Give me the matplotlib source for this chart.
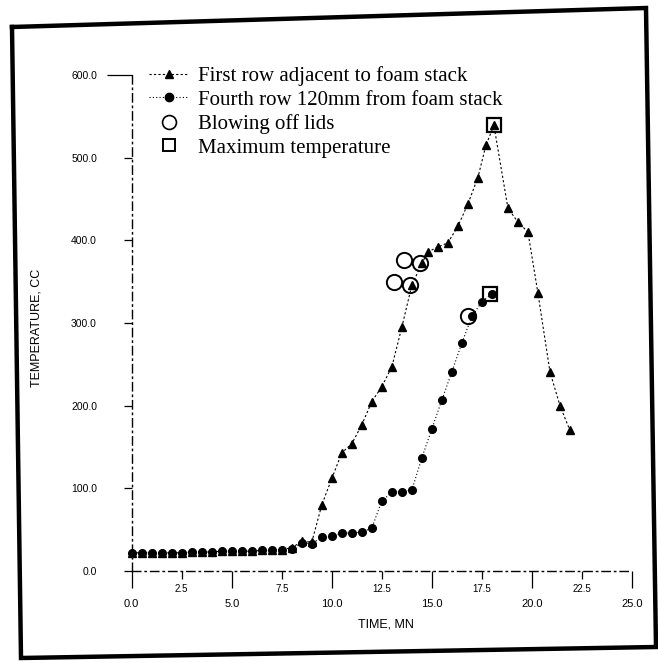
import matplotlib
matplotlib.use("Agg")
import matplotlib.pyplot as plt
from matplotlib.lines import Line2D

# ---- data ----
first_t = [0.0, 0.5, 1.0, 1.5, 2.0, 2.5, 3.0, 3.5, 4.0, 4.5, 5.0, 5.5, 6.0, 6.5, 7.0,
           7.5, 8.0, 8.5, 9.0, 9.5, 10.0, 10.5, 11.0, 11.5, 12.0, 12.5, 13.0, 13.5,
           14.0, 14.5, 14.8, 15.3, 15.8, 16.3, 16.8, 17.3, 17.7, 18.1, 18.8, 19.3,
           19.8, 20.3, 20.9, 21.4, 21.9]
first_T = [22, 22, 22, 22, 22, 22, 23, 23, 23, 24, 24, 24, 24, 25, 25,
           26, 28, 36, 35, 80, 112, 143, 154, 177, 205, 223, 247, 295,
           346, 372, 386, 392, 397, 417, 444, 476, 515, 539, 439, 422,
           410, 336, 241, 200, 170]

fourth_t = [0.0, 0.5, 1.0, 1.5, 2.0, 2.5, 3.0, 3.5, 4.0, 4.5, 5.0, 5.5, 6.0, 6.5, 7.0,
            7.5, 8.0, 8.5, 9.0, 9.5, 10.0, 10.5, 11.0, 11.5, 12.0, 12.5, 13.0, 13.5,
            14.0, 14.5, 15.0, 15.5, 16.0, 16.5, 17.0, 17.5, 18.0]
fourth_T = [22, 22, 22, 22, 22, 22, 23, 23, 23, 24, 24, 24, 24, 25, 25,
            26, 27, 34, 33, 41, 42, 46, 46, 47, 52, 85, 95, 96,
            98, 137, 172, 207, 241, 276, 308, 326, 335]

lids_t = [13.1, 13.6, 13.9, 14.4, 16.8]
lids_T = [349, 376, 346, 372, 308]

max_t = [18.1, 17.9]
max_T = [539, 335]

series_labels = ["First row adjacent to foam stack",
                 "Fourth row 120mm from foam stack",
                 "Blowing off lids",
                 "Maximum temperature"]

x_major = [0.0, 5.0, 10.0, 15.0, 20.0, 25.0]
x_major_labels = ["0.0", "5.0", "10.0", "15.0", "20.0", "25.0"]
x_minor = [2.5, 7.5, 12.5, 17.5, 22.5]
x_minor_labels = ["2.5", "7.5", "12.5", "17.5", "22.5"]
y_ticks = [0, 100, 200, 300, 400, 500, 600]
y_tick_labels = ["0.0", "100.0", "200.0", "300.0", "400.0", "500.0", "600.0"]

W, H = 658, 663
fig = plt.figure(figsize=(W / 100, H / 100), dpi=100)
fig.patch.set_facecolor("white")

ax = fig.add_axes([131.7 / W, (H - 571) / H, 500.3 / W, 496 / H])
ax.set_xlim(0, 25)
ax.set_ylim(0, 600)

ax.plot(first_t, first_T, linestyle=(0, (2, 2)), color="black", lw=0.8,
        marker="^", ms=5.5, mfc="black", mec="black", clip_on=False)
ax.plot(fourth_t, fourth_T, linestyle=(0, (1, 2)), color="black", lw=0.8,
        marker="o", ms=5.5, mfc="black", mec="black", clip_on=False)
ax.plot(lids_t, lids_T, linestyle="none", marker="o", ms=11, mfc="none",
        mec="black", mew=1.4)
ax.plot(max_t, max_T, linestyle="none", marker="s", ms=10, mfc="none",
        mec="black", mew=1.6)

# spines
for side in ("top", "right"):
    ax.spines[side].set_visible(False)
for side in ("left", "bottom"):
    ax.spines[side].set_linestyle((0, (6, 3, 1, 3)))
    ax.spines[side].set_linewidth(1.0)

ax.set_yticks(y_ticks, labels=y_tick_labels)
ax.set_xticks(x_major, labels=x_major_labels)
ax.set_xticks(x_minor, labels=x_minor_labels, minor=True)

ax.tick_params(axis="y", which="major", length=6, width=0.9, pad=19,
               labelsize=7.5, direction="out")
ax.tick_params(axis="x", which="major", length=12, width=0.9, pad=8,
               labelsize=8, direction="out")
ax.tick_params(axis="x", which="minor", length=6, width=0.9, pad=3,
               labelsize=7, direction="out")
for lab in ax.get_xticklabels() + ax.get_yticklabels() + ax.get_xticklabels(minor=True):
    lab.set_family("Liberation Sans")
# longer top tick on y axis
ax.yaxis.get_major_ticks()[-1].tick1line.set_markersize(18)

ax.set_xlabel("TIME, MN", fontsize=9, family="Liberation Sans")
ax.xaxis.set_label_coords(0.508, -0.095)
ax.set_ylabel("TEMPERATURE, CC", fontsize=9, family="Liberation Sans")
ax.yaxis.set_label_coords(-0.178, 0.49)

handles = [
    Line2D([], [], linestyle=(0, (2, 2)), color="black", lw=0.8, marker="^",
           ms=5.5, mfc="black"),
    Line2D([], [], linestyle=(0, (1, 2)), color="black", lw=0.8, marker="o",
           ms=6, mfc="black"),
    Line2D([], [], linestyle="none", marker="o", ms=10, mfc="none", mec="black",
           mew=1.2),
    Line2D([], [], linestyle="none", marker="s", ms=9, mfc="none", mec="black",
           mew=1.4),
]
ax.legend(handles, series_labels, loc="upper left",
          bbox_to_anchor=(0.035, 1.018), frameon=False,
          prop=dict(family="Liberation Serif", size=15),
          labelspacing=0.2, handlelength=1.9, handletextpad=0.45,
          borderpad=0, borderaxespad=0)

# scanned page frame
frame = Line2D([12 / W, 646 / W, 656 / W, 21 / W, 12 / W],
               [1 - 27 / H, 1 - 8 / H, 1 - 647 / H, 1 - 658 / H, 1 - 27 / H],
               transform=fig.transFigure, color="black", lw=3.2,
               solid_joinstyle="miter")
fig.add_artist(frame)

fig.savefig("out.png", dpi=100, facecolor="white")
